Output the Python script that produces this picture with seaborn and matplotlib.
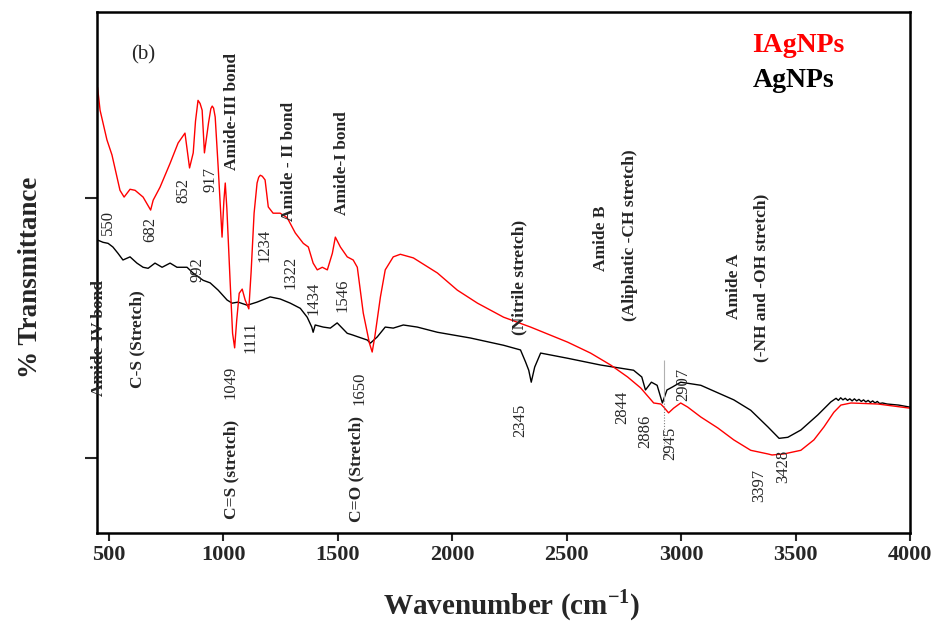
import matplotlib
matplotlib.use("Agg")
import matplotlib.pyplot as plt
import pandas as pd
import seaborn as sns

# FTIR spectra: wavenumber (cm^-1) and transmittance (arbitrary % scale)
wn_iagnps = [450, 461, 491, 513, 548, 566, 592, 614, 649, 682,
             693, 723, 767, 802, 832, 852, 868, 878, 889, 898, 907, 917,
             935, 945, 951, 957, 964, 977, 994, 1002, 1008, 1015, 1029, 1040, 1049,
             1058, 1069, 1082, 1095,
             1111, 1121, 1134, 1147, 1154, 1161, 1170, 1182, 1196, 1217, 1248, 1279,
             1314, 1349, 1371, 1392, 1410, 1432, 1454, 1476, 1489, 1511,
             1541, 1567, 1585, 1611, 1638, 1650, 1662, 1686, 1707, 1742, 1773,
             1830, 1935, 2022, 2110, 2224, 2342, 2504, 2604, 2692, 2766,
             2823, 2880, 2911, 2924, 2945, 2967, 2998, 3029, 3086, 3160,
             3230, 3304, 3379, 3397, 3449, 3523, 3580, 3624, 3667, 3698,
             3742, 3860, 4000]
t_iagnps = [86.3, 81.9, 76.2, 73.3, 66.5, 65.2, 66.7, 66.5, 65.2, 62.7,
            64.6, 67.1, 71.7, 75.6, 77.5, 70.8, 73.7, 79.8, 83.8, 83.2, 81.9, 73.7,
            79.5, 82.2, 82.7, 82.3, 80.6, 71.0, 57.5, 64.5, 67.9, 63.0, 49.2, 39.0, 36.2,
            41.5, 46.7, 47.5, 45.4,
            43.7, 50.8, 62.1, 67.9, 69.0, 69.4, 69.2, 68.5, 63.3, 62.1, 62.1, 61.2,
            58.3, 56.3, 55.6, 52.5, 51.2, 51.7, 51.2, 54.4, 57.5, 55.6,
            53.7, 53.1, 51.7, 42.9, 37.1, 35.4, 38.5, 46.0, 51.2, 53.7, 54.2,
            53.5, 50.6, 47.3, 44.8, 42.1, 40.2, 37.3, 35.2, 32.9, 30.6,
            28.5, 25.6, 25.4, 24.8, 23.7, 24.6, 25.6, 24.8, 22.9, 20.8,
            18.5, 16.5, 15.8, 15.6, 15.8, 16.5, 18.5, 21.0, 23.8, 25.2,
            25.6, 25.4, 24.6]

wn_agnps = [452, 474, 496, 517, 539, 561, 592, 622, 649, 671,
            701, 732, 767, 797, 841, 867, 911, 942, 977, 1016,
            1038, 1064, 1104, 1147, 1204, 1248, 1292, 1336, 1366, 1386,
            1392, 1401, 1436, 1467, 1497, 1519, 1541, 1563, 1589, 1629,
            1642, 1672, 1707, 1742, 1786, 1847, 1935, 2079, 2224, 2298,
            2320, 2334, 2345, 2360, 2386, 2504, 2648, 2792, 2828, 2844,
            2870, 2895, 2918, 2938, 2963, 2998, 3086, 3230, 3304, 3379,
            3428, 3466, 3523, 3597, 3654, 3667,
            3677, 3687, 3697, 3707, 3717, 3727, 3737, 3747, 3757, 3767,
            3777, 3787, 3797, 3807, 3817, 3827, 3837, 3847, 3857, 3867,
            3880, 3900, 3950, 4000]
t_agnps = [56.9, 56.5, 56.3, 55.6, 54.4, 53.1, 53.7, 52.5, 51.7, 51.5,
           52.5, 51.7, 52.5, 51.7, 51.7, 50.6, 49.2, 48.7, 47.3, 45.4,
           44.8, 45.0, 44.4, 45.0, 46.0, 45.6, 44.8, 43.8, 42.1, 40.2,
           39.2, 40.6, 40.2, 40.0, 41.0, 40.0, 39.0, 38.7, 38.3, 37.7,
           37.1, 38.3, 40.2, 40.0, 40.6, 40.2, 39.2, 38.1, 36.7, 35.8,
           33.5, 31.9, 29.6, 32.5, 35.2, 34.2, 32.9, 31.9, 30.6, 28.1,
           29.6, 29.0, 25.6, 28.1, 28.7, 29.6, 29.0, 26.2, 24.2, 21.0,
           18.8, 19.0, 20.4, 23.3, 25.8, 26.2,
           26.5, 26.1, 26.6, 26.2, 26.5, 26.1, 26.4, 26.0, 26.4, 26.0,
           26.3, 25.9, 26.2, 25.8, 26.1, 25.7, 26.0, 25.6, 25.9, 25.5,
           25.6, 25.4, 25.2, 24.8]

samples = ["AgNPs", "IAgNPs"]
sample_colors = {"IAgNPs": "#ff0000", "AgNPs": "#000000"}

x_ticks = [500, 1000, 1500, 2000, 2500, 3000, 3500, 4000]
y_ticks = [15, 65]

# peak positions written next to the bands: (text, x, y)
peak_labels = [
    ("550", 496, 60.4), ("682", 679, 59.0), ("852", 824, 66.5),
    ("917", 942, 68.5), ("992", 885, 51.2), ("1234", 1178, 56.0),
    ("1322", 1292, 50.8), ("1434", 1392, 45.8), ("1546", 1519, 46.3),
    ("1111", 1117, 38.3), ("1049", 1029, 29.6), ("1650", 1594, 28.5),
    ("2345", 2298, 22.3), ("2844", 2744, 24.8), ("2886", 2845, 20.2),
    ("2945", 2954, 17.9), ("2907", 3011, 29.2), ("3397", 3339, 9.8),
    ("3428", 3444, 13.5),
]
# band assignments: (text, x, y)
band_labels = [
    ("Amide-III bond", 1038, 81.7), ("Amide - II bond", 1288, 72.1),
    ("Amide-I bond", 1519, 71.7), ("C=S (stretch)", 1034, 12.9),
    ("C=O (Stretch)", 1581, 12.9), ("C-S (Stretch)", 622, 37.9),
    ("Amide-IV bond", 456, 38.1), ("(Nitrile stretch)", 2294, 49.8),
    ("Amide B", 2648, 57.3), ("(Aliphatic -CH stretch)", 2775, 57.9),
    ("Amide A", 3230, 48.1), ("(-NH and -OH stretch)", 3352, 49.6),
]
# guide line through the C-H band
guide_x = 2924
guide_solid = (26.0, 33.9)
guide_dotted = (15.2, 26.0)

sns.set_style("ticks")
plt.rcParams["font.family"] = ["Liberation Serif", "DejaVu Serif"]
plt.rcParams["mathtext.fontset"] = "custom"
plt.rcParams["mathtext.bf"] = "Liberation Serif:bold"
plt.rcParams["mathtext.rm"] = "Liberation Serif:bold"

df = pd.concat([
    pd.DataFrame({"wavenumber": wn_agnps, "transmittance": t_agnps, "sample": "AgNPs"}),
    pd.DataFrame({"wavenumber": wn_iagnps, "transmittance": t_iagnps, "sample": "IAgNPs"}),
], ignore_index=True)

fig = plt.figure(figsize=(9.37, 6.23), dpi=100)
ax = fig.add_axes([0.1035, 0.1445, 0.8677, 0.8363])

sns.lineplot(data=df, x="wavenumber", y="transmittance", hue="sample",
             hue_order=samples, palette=sample_colors, estimator=None,
             sort=False, linewidth=1.0, legend=False, ax=ax)

ax.vlines(guide_x, *guide_solid, colors="#b0b0b0", linewidth=0.8)
ax.vlines(guide_x, *guide_dotted, colors="#808080", linewidth=0.8,
          linestyles=(0, (1, 1.5)))

ax.set_xlim(447.5, 4000)
ax.set_ylim(0.6, 100.8)
ax.set_xticks(x_ticks)
ax.set_yticks(y_ticks)
ax.set_yticklabels([])
ax.tick_params(axis="x", direction="out", length=6, width=1.5, pad=3,
               labelsize=16)
ax.tick_params(axis="y", direction="out", length=8.5, width=1.5)
for lab in ax.get_xticklabels():
    lab.set_fontweight("bold")
for side in ["left", "bottom", "right", "top"]:
    ax.spines[side].set_visible(True)
    ax.spines[side].set_linewidth(1.8)
    ax.spines[side].set_color("black")

ax.set_xlabel(r"Wavenumber (cm$^{\mathbf{-1}}$)", fontsize=21, fontweight="bold")
ax.xaxis.set_label_coords(0.51, -0.105)
ax.set_ylabel("% Transmittance", fontsize=19.5, fontweight="bold")
ax.yaxis.set_label_coords(-0.066, 0.49)

for txt, x, y in peak_labels:
    ax.text(x, y, txt, rotation=90, ha="center", va="center", fontsize=12)
for txt, x, y in band_labels:
    ax.text(x, y, txt, rotation=90, ha="center", va="center", fontsize=12.5,
            fontweight="bold")

ax.text(0.0566, 0.9175, "(b)", transform=ax.transAxes, ha="center",
        va="center", fontsize=15)
ax.text(0.806, 0.935, "IAgNPs", transform=ax.transAxes, ha="left",
        va="center", fontsize=20, fontweight="bold", color=sample_colors["IAgNPs"])
ax.text(0.806, 0.869, "AgNPs", transform=ax.transAxes, ha="left",
        va="center", fontsize=20, fontweight="bold", color=sample_colors["AgNPs"])

fig.savefig("out.png", dpi=100)
